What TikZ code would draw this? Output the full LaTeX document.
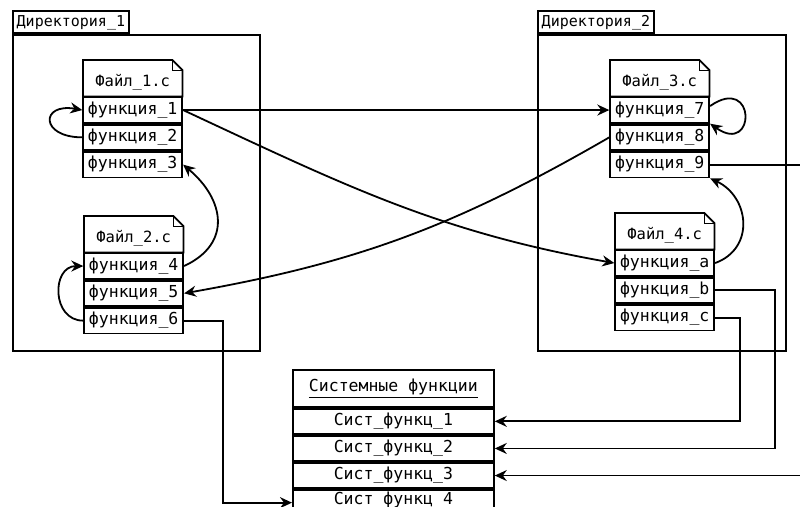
\documentclass[tikz,border=0pt]{standalone}
\usepackage{fontspec}
\setmainfont{DejaVu Sans Mono}
\usetikzlibrary{arrows.meta,calc}
\newcommand{\rtext}{\fontsize{16.5}{18}\selectfont}
\newcommand{\htext}{\fontsize{15.5}{17}\selectfont}
\newcommand{\ttext}{\fontsize{15}{17}\selectfont}
\tikzset{
  lw/.style={line width=1.8pt},
  dirbox/.style={draw, lw, inner sep=0pt},
  dirtab/.style={draw, lw, minimum height=22pt, inner sep=1.5pt, font=\ttext, text height=11pt, text depth=3pt},
  frow/.style={draw, lw, minimum width=99pt, minimum height=25.5pt, inner sep=0pt, font=\rtext},
  fhead/.style={minimum width=99pt, minimum height=36pt, inner sep=0pt, font=\htext, text height=20pt, text depth=4pt},
  shead/.style={draw, lw, minimum width=201pt, minimum height=37pt, inner sep=0pt, font=\rtext},
  srow/.style={draw, lw, minimum width=201pt, minimum height=25.3pt, inner sep=0pt, font=\rtext},
  conn/.style={lw, -{Stealth[length=12pt,width=11pt,inset=4pt]}},
  plain/.style={lw},
}
% file box: name, x, y, title, row1, row2, row3, suffix
\newcommand{\filebox}[8]{%
  \node[fhead, anchor=north west] (#1h) at (#2,#3) {#4};
  \draw[lw] (#1h.north west) -- ([xshift=-10pt]#1h.north east) -- ([yshift=-10pt]#1h.north east)
     -- (#1h.south east) -- (#1h.south west) -- cycle;
  \draw[line width=0.9pt] ([xshift=-10pt]#1h.north east) |- ([yshift=-10pt]#1h.north east);
  \node[frow, anchor=north] (#1#8a) at (#1h.south) {#5};
  \node[frow, anchor=north] (#1#8b) at (#1#8a.south) {#6};
  \node[frow, anchor=north] (#1#8c) at (#1#8b.south) {#7};
}
\begin{document}
\begin{tikzpicture}[x=1pt,y=-1pt]
\clip (0,0) rectangle (800,506);
\fill[white] (0,0) rectangle (800,506);

% directories
\node[dirbox, anchor=north west, minimum width=247pt, minimum height=316pt] (d1) at (12,34) {};
\node[dirtab, anchor=south west, minimum width=116pt] (d1t) at (d1.north west) {Директория\_1};
\node[dirbox, anchor=north west, minimum width=248pt, minimum height=316pt] (d2) at (537,34) {};
\node[dirtab, anchor=south west, minimum width=116pt] (d2t) at (d2.north west) {Директория\_2};

% files
\filebox{f1}{83}{60}{Файл\_1.c}{функция\_1}{функция\_2}{функция\_3}{}
\filebox{f2}{84}{216}{Файл\_2.c}{функция\_4}{функция\_5}{функция\_6}{}
\filebox{f3}{610}{60}{Файл\_3.c}{функция\_7}{функция\_8}{функция\_9}{}
\filebox{f4}{615}{213}{Файл\_4.c}{функция\_a}{функция\_b}{функция\_c}{}

% system functions
\node[shead, anchor=north west] (sh) at (292,369) {\underline{Системные функции}};
\node[srow, anchor=north] (s1) at (sh.south) {Сист\_функц\_1};
\node[srow, anchor=north] (s2) at (s1.south) {Сист\_функц\_2};
\node[srow, anchor=north] (s3) at (s2.south) {Сист\_функц\_3};
\node[srow, anchor=north, text height=11pt, text depth=7pt] (s4) at (s3.south) {Сист\_функц\_4};

\coordinate (redge) at (806,0);

% connectors
\draw[conn] (f1b.west) to[out=180,in=170,looseness=4] (f1a.west);
\draw[conn] (f2c.west) to[out=180,in=180,looseness=1.5] (f2a.west);
\draw[conn] (f2a.east) to[out=25,in=-40,looseness=1.35] (f1c.east);
\draw[conn] (f1a.east) -- (f3a.west);
\draw[conn] (f1a.east) to[out=-25,in=170] (f4a.west);
\draw[conn] (f3b.west) to[out=210,in=10] (f2b.east);
\draw[conn] ([yshift=4pt]f3a.east) to[out=35,in=-35,looseness=8.2] (f3a.south east);
\draw[plain] (f3c.east) -- (f3c.east -| redge);
\draw[conn] (f4a.east) to[out=20,in=-25,looseness=1.3] (f3c.south east);
\draw[conn] (f4b.east) -- ++(60,0) |- (s2.east);
\draw[conn] (f4c.east) -- ++(25,0) |- (s1.east);
\draw[conn] (s3.east -| redge) -- (s3.east);
\draw[conn] (f2c.east) -- ++(39,0) |- (s4.west);
\end{tikzpicture}
\end{document}
